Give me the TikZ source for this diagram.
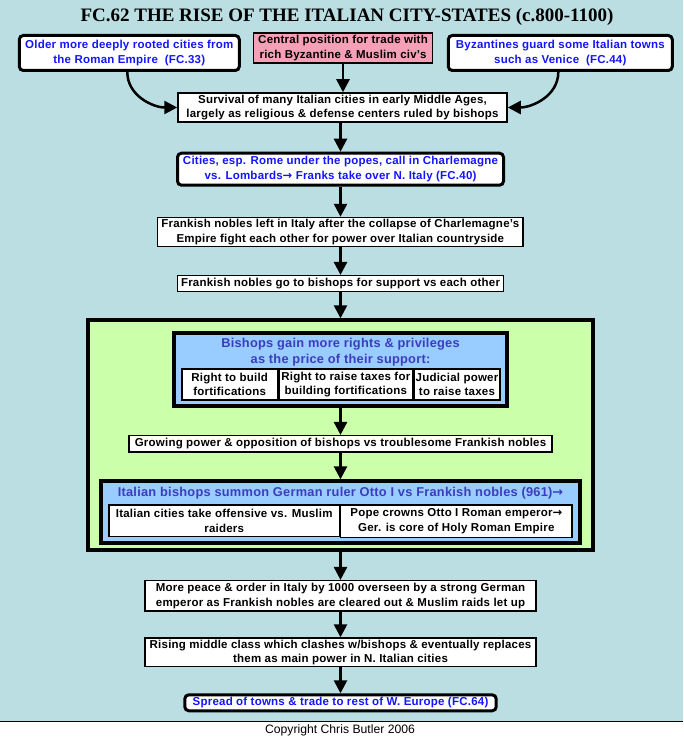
\documentclass[tikz,border=0pt]{standalone}
\usepackage{fontspec}
\setmainfont{Liberation Sans}
\newfontfamily\sansb{Liberation Sans}[LetterSpace=2]
\newfontfamily\titlef{Liberation Serif}
\newfontfamily\djf{DejaVu Sans}
\newcommand{\rarr}{{\djf\bfseries →}}
\usetikzlibrary{arrows.meta}
\definecolor{bg}{RGB}{186,222,226}
\definecolor{pinkf}{RGB}{245,160,182}
\definecolor{greenf}{RGB}{204,255,170}
\definecolor{bluef}{RGB}{153,204,255}
\definecolor{linkc}{RGB}{20,20,255}
\definecolor{headc}{RGB}{60,60,190}
\tikzset{
 txt/.style={font=\sansb\bfseries\fontsize{11.5}{14.5}\selectfont, align=center, inner sep=0pt},
 headtxt/.style={font=\sansb\bfseries\fontsize{12.8}{15.7}\selectfont, align=center, inner sep=0pt, text=headc},
 plain/.style={txt, draw, fill=white, line width=1.5pt},
 link/.style={txt, draw, fill=white, line width=3pt, rounded corners=4pt, text=linkc},
 frame/.style={draw, line width=4pt, inner sep=0pt},
 arr/.style={line width=2.5pt, -{Triangle[length=13pt,width=13pt]}},
}
\begin{document}
\begin{tikzpicture}[x=1pt,y=-1pt]
\fill[bg] (0,0) rectangle (683,721);
\fill[white] (0,721) rectangle (683,738);
\useasboundingbox (0,0) rectangle (683,738);
\draw[line width=1pt] (0,721) -- (683,721);
\node[font=\titlef\bfseries\fontsize{19}{21}\selectfont, inner sep=0pt] (title) at (347,16.5) {FC.62 THE RISE OF THE ITALIAN CITY-STATES (c.800-1100)};
\node[link, minimum width=220, minimum height=35] (L) at (129.3,53) {Older more deeply rooted cities from\\the Roman Empire~~(FC.33)};
\node[plain, fill=pinkf, minimum width=179, minimum height=30] (P) at (343,48) {Central position for trade with\\rich Byzantine \& Muslim civ’s};
\node[link, minimum width=224, minimum height=35] (R) at (560.3,53) {Byzantines guard some Italian towns\\such as Venice~~(FC.44)};
\node[plain, minimum width=329, minimum height=29] (S) at (342.5,107.5) {Survival of many Italian cities in early Middle Ages,\\largely as religious \& defense centers ruled by bishops};
\node[link, minimum width=326, minimum height=32] (C) at (340.5,169.2) {Cities, esp. Rome under the popes, call in Charlemagne\\vs. Lombards\rarr{} Franks take over N. Italy (FC.40)};
\node[plain, minimum width=365.8, minimum height=29] (F1) at (340.3,232) {Frankish nobles left in Italy after the collapse of Charlemagne’s\\Empire fight each other for power over Italian countryside};
\node[plain, minimum width=326, minimum height=16] (F2) at (340.5,283.7) {Frankish nobles go to bishops for support vs each other};
\node[frame, fill=greenf, minimum width=505, minimum height=229.4] (G) at (340.5,435) {};
\node[frame, fill=bluef, minimum width=333.6, minimum height=73.3] (B1) at (340.5,369.7) {};
\node[headtxt] (B1t) at (340.5,352.5) {Bishops gain more rights \& privileges\\as the price of their support:};
\node[plain, minimum width=95.8, minimum height=31] (r1) at (229.7,384.5) {Right to build\\fortifications};
\node[plain, minimum width=133.5, minimum height=31] (r2) at (345.8,384.5) {Right to raise taxes for\\building fortifications};
\node[plain, minimum width=86, minimum height=31] (r3) at (457,384.5) {Judicial power\\to raise taxes};
\node[plain, minimum width=422.9, minimum height=16.2] (Gr) at (340.5,443.8) {Growing power \& opposition of bishops vs troublesome Frankish nobles};
\node[frame, fill=bluef, minimum width=478.4, minimum height=61.7] (B2) at (340.5,512.2) {};
\node[headtxt] (B2t) at (340.5,493.3) {Italian bishops summon German ruler Otto I vs Frankish nobles (961)\rarr};
\node[plain, minimum width=230.2, minimum height=31.8] (o1) at (224.2,520.7) {Italian cities take offensive vs. Muslim\\raiders};
\node[plain, minimum width=231.2, minimum height=32.8] (o2) at (456.3,521.2) {Pope crowns Otto I Roman emperor\rarr\\Ger. is core of Holy Roman Empire};
\node[plain, minimum width=390.9, minimum height=30.2] (M) at (340.5,595.8) {More peace \& order in Italy by 1000 overseen by a strong German\\emperor as Frankish nobles are cleared out \& Muslim raids let up};
\node[plain, minimum width=390.9, minimum height=28.5] (Ri) at (340.5,652.3) {Rising middle class which clashes w/bishops \& eventually replaces\\them as main power in N. Italian cities};
\node[link, minimum width=311.4, minimum height=16] (Sp) at (340.5,702.8) {Spread of towns \& trade to rest of W. Europe (FC.64)};
\node[font=\fontsize{12.2}{14}\selectfont, inner sep=0pt] (cp) at (340,730) {Copyright Chris Butler 2006};
\draw[arr] ([xshift=-2pt]L.south) to[out=-90,in=180] (S.west);
\draw[arr] ([xshift=-2pt]R.south) to[out=-90,in=0] (S.east);
\draw[arr] (P.south) -- (P.south |- S.north);
\draw[arr] (C.north |- S.south) -- (C.north);
\draw[arr] (C.south) -- (C.south |- F1.north);
\draw[arr] (F1.south -| F2.north) -- (F2.north);
\draw[arr] (F2.south) -- (G.north);
\draw[arr] (B1.south) -- (Gr.north);
\draw[arr] (Gr.south) -- (B2.north);
\draw[arr] (G.south) -- (M.north);
\draw[arr] (M.south) -- (Ri.north);
\draw[arr] (Ri.south) -- (Sp.north);
\end{tikzpicture}
\end{document}
